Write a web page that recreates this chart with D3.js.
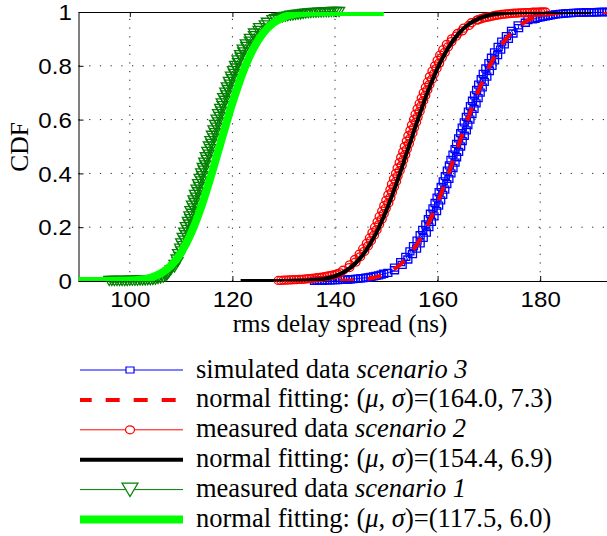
<!DOCTYPE html>
<html>
<head>
<meta charset="utf-8">
<script src="https://cdn.jsdelivr.net/npm/d3@7"></script>
<style>
  body { margin: 0; background: #fff; }
  svg { display: block; }
</style>
</head>
<body>
<div id="placeholder"></div>
<script>
// Axis ticks
var xTicks = [100, 120, 140, 160, 180];
var yTicks = [0, 0.2, 0.4, 0.6, 0.8, 1];
var yTickLabels = ["0", "0.2", "0.4", "0.6", "0.8", "1"];

// [rms delay spread (ns), CDF]
var sim3 = [[136,0.001],[136.5,0.001],[137,0.001],[137.5,0.001],[138,0.002],[138.5,0.002],[139,0.002],[139.5,0.003],[140,0.003],[140.5,0.003],[141,0.004],[141.5,0.004],[142,0.005],[142.5,0.005],[143,0.006],[143.5,0.007],[144,0.008],[144.5,0.009],[145,0.010],[145.5,0.011],[146,0.012],[146.5,0.013],[147,0.015],[147.5,0.017],[148,0.019],[148.5,0.021],[149,0.024],[149.5,0.027],
  [150.3,0.03],[151.6,0.04],[151.6,0.05],[153.1,0.06],[152.8,0.07],[154.2,0.08],[153.8,0.09],[155.1,0.10],[154.6,0.11],[155.9,0.12],[155.3,0.13],[156.6,0.14],[156.0,0.15],[157.2,0.16],[156.6,0.17],[157.8,0.18],[157.1,0.19],[158.3,0.20],[157.7,0.21],[158.8,0.22],[158.2,0.23],[159.3,0.24],[158.6,0.25],[159.8,0.26],[159.1,0.27],[160.2,0.28],[159.5,0.29],[160.6,0.30],[159.9,0.31],[161.0,0.32],[160.3,0.33],[161.4,0.34],[160.7,0.35],[161.8,0.36],[161.1,0.37],[162.2,0.38],[161.5,0.39],[162.6,0.40],[161.9,0.41],[163.0,0.42],[162.3,0.43],[163.4,0.44],[162.6,0.45],[163.7,0.46],[163.0,0.47],[164.1,0.48],[163.4,0.49],[164.5,0.50],
  [163.7,0.51],[164.8,0.52],[164.1,0.53],[165.2,0.54],[164.5,0.55],[165.6,0.56],[164.8,0.57],[165.9,0.58],[165.2,0.59],[166.3,0.60],[165.6,0.61],[166.7,0.62],[166.0,0.63],[167.1,0.64],[166.4,0.65],[167.5,0.66],[166.8,0.67],[167.9,0.68],[167.2,0.69],[168.3,0.70],[167.6,0.71],[168.7,0.72],[168.0,0.73],[169.1,0.74],[168.5,0.75],[169.6,0.76],[168.9,0.77],[170.1,0.78],[169.4,0.79],[170.6,0.80],[170.0,0.81],[171.1,0.82],[170.5,0.83],[171.7,0.84],[171.1,0.85],[172.3,0.86],[171.8,0.87],[173.0,0.88],[172.5,0.89],[173.8,0.90],[173.4,0.91],[174.7,0.92],[174.4,0.93],[175.8,0.94],[175.7,0.95],[177.1,0.96],[177.6,0.97],
  [178.5,0.973],[179,0.975],[179.5,0.978],[180,0.980],[180.5,0.982],[181,0.984],[181.5,0.986],[182,0.988],[182.5,0.989],[183,0.991],[183.5,0.992],[184,0.993],[184.5,0.994],[185,0.995],[185.5,0.996],[186,0.996],[186.5,0.997],[187,0.997],[187.5,0.998],[188,0.998],[188.5,0.998],[189,0.999],[189.5,0.999],[190,0.999],[190.5,0.999],[191,0.999],[191.5,1],[192,1],[192.5,1],[193,1],[193.5,1],[194,1]];
var fit3 = [[130,0],[136,0.0001],[140,0.0005],[143,0.002],[146,0.0068],[148,0.0142],[150,0.0276],[152,0.0501],[154,0.0853],[156,0.1366],[158,0.2056],[160,0.2919],[162,0.3921],[164,0.5],[166,0.6079],[168,0.7081],[170,0.7944],[172,0.8634],[174,0.9147],[176,0.9499],[178,0.9724],[180,0.9858],[183,0.9954],[186,0.9987],[190,0.9998],[200,1]];
var meas2 = [[129,0.002],[129.5,0.002],[130,0.003],[130.5,0.003],[131,0.004],[131.5,0.004],[132,0.005],[132.5,0.005],[133,0.006],[133.5,0.006],[134,0.007],[134.5,0.008],[135,0.009],[135.5,0.010],[136,0.011],[136.5,0.012],[137,0.013],[137.5,0.014],[138,0.016],[138.5,0.018],[139,0.020],[139.5,0.022],[140,0.024],[140.5,0.027],
  [141.0,0.03],[141.6,0.04],[142.8,0.05],[142.9,0.06],[144.0,0.07],[143.9,0.08],[144.9,0.09],[144.8,0.10],[145.7,0.11],[145.5,0.12],[146.4,0.13],[146.2,0.14],[147.0,0.15],[146.8,0.16],[147.6,0.17],[147.3,0.18],[148.1,0.19],[147.8,0.20],[148.6,0.21],[148.3,0.22],[149.1,0.23],[148.7,0.24],[149.5,0.25],[149.2,0.26],[149.9,0.27],[149.6,0.28],[150.4,0.29],[150.0,0.30],[150.8,0.31],[150.4,0.32],[151.1,0.33],[150.8,0.34],[151.5,0.35],[151.1,0.36],[151.9,0.37],[151.5,0.38],[152.2,0.39],[151.9,0.40],[152.6,0.41],[152.2,0.42],[153.0,0.43],[152.6,0.44],[153.3,0.45],[152.9,0.46],[153.7,0.47],[153.3,0.48],[154.0,0.49],[153.6,0.50],
  [154.4,0.51],[154.0,0.52],[154.7,0.53],[154.3,0.54],[155.1,0.55],[154.7,0.56],[155.4,0.57],[155.0,0.58],[155.8,0.59],[155.4,0.60],[156.1,0.61],[155.7,0.62],[156.5,0.63],[156.1,0.64],[156.8,0.65],[156.5,0.66],[157.2,0.67],[156.9,0.68],[157.6,0.69],[157.3,0.70],[158.0,0.71],[157.7,0.72],[158.4,0.73],[158.1,0.74],[158.9,0.75],[158.5,0.76],[159.3,0.77],[159.0,0.78],[159.8,0.79],[159.5,0.80],[160.3,0.81],[160.0,0.82],[160.8,0.83],[160.5,0.84],[161.4,0.85],[161.1,0.86],[162.0,0.87],[161.8,0.88],[162.7,0.89],[162.8,0.90],[163.6,0.91],[163.9,0.92],[164.8,0.93],[165.1,0.94],[166.1,0.95],[166.6,0.96],[167.7,0.97],
  [168,0.972],[168.5,0.975],[169,0.978],[169.5,0.980],[170,0.982],[170.5,0.984],[171,0.986],[171.5,0.988],[172,0.989],[172.5,0.991],[173,0.992],[173.5,0.993],[174,0.994],[174.5,0.995],[175,0.996],[175.5,0.996],[176,0.997],[176.5,0.997],[177,0.998],[177.5,0.998],[178,0.998],[178.5,0.999],[179,0.999],[179.5,0.999],[180,1],[180.5,1],[181,1]];
var fit2 = [[121.6,0],[130,0.0002],[134,0.0016],[136,0.0038],[138,0.0087],[140,0.0184],[142,0.0362],[144,0.0659],[146,0.1118],[148,0.1768],[150,0.2618],[152,0.364],[154,0.4769],[156,0.5917],[158,0.6991],[160,0.7915],[162,0.8646],[164,0.9179],[166,0.9536],[168,0.9756],[170,0.9881],[173,0.9965],[176,0.9991],[180,0.9999],[190,1]];
var meas1 = [[96,0],[96.5,0],[97,0],[97.5,0],[98,0],[98.5,0],[99,0],[99.5,0],[100,0.001],[100.5,0.001],[101,0.001],[101.5,0.001],[102,0.002],[102.5,0.002],[103,0.002],[103.5,0.003],[104,0.003],[104.5,0.004],[105,0.005],[105.5,0.007],[106,0.009],[106.5,0.012],[107,0.017],[107.3,0.022],
  [107.6,0.03],[108.0,0.04],[108.7,0.05],[108.7,0.06],[109.3,0.07],[109.1,0.08],[109.7,0.09],[109.4,0.10],[110.0,0.11],[109.8,0.12],[110.3,0.13],[110.0,0.14],[110.6,0.15],[110.3,0.16],[110.9,0.17],[110.6,0.18],[111.2,0.19],[110.9,0.20],[111.5,0.21],[111.3,0.22],[111.8,0.23],[111.6,0.24],[112.1,0.25],[111.8,0.26],[112.4,0.27],[112.1,0.28],[112.6,0.29],[112.4,0.30],[112.9,0.31],[112.7,0.32],[113.3,0.33],[113.0,0.34],[113.5,0.35],[113.3,0.36],[113.9,0.37],[113.6,0.38],[114.1,0.39],[113.9,0.40],[114.4,0.41],[114.2,0.42],[114.7,0.43],[114.5,0.44],[115.0,0.45],[114.8,0.46],[115.4,0.47],[115.1,0.48],[115.7,0.49],[115.4,0.50],
  [115.9,0.51],[115.7,0.52],[116.3,0.53],[116.0,0.54],[116.6,0.55],[116.3,0.56],[116.9,0.57],[116.6,0.58],[117.2,0.59],[116.9,0.60],[117.5,0.61],[117.2,0.62],[117.8,0.63],[117.6,0.64],[118.1,0.65],[117.9,0.66],[118.5,0.67],[118.2,0.68],[118.8,0.69],[118.6,0.70],[119.1,0.71],[118.9,0.72],[119.5,0.73],[119.3,0.74],[119.9,0.75],[119.7,0.76],[120.3,0.77],[120.1,0.78],[120.7,0.79],[120.5,0.80],[121.1,0.81],[121.0,0.82],[121.6,0.83],[121.5,0.84],[122.1,0.85],[122.0,0.86],[122.7,0.87],[122.6,0.88],[123.4,0.89],[123.4,0.90],[124.2,0.91],[124.2,0.92],[125.1,0.93],[125.2,0.94],[126.3,0.95],[126.7,0.96],[127.8,0.97],
  [128.3,0.973],[128.8,0.976],[129.3,0.978],[129.8,0.980],[130.3,0.982],[130.8,0.984],[131.3,0.986],[131.8,0.987],[132.3,0.989],[132.8,0.990],[133.3,0.991],[133.8,0.993],[134.3,0.994],[134.8,0.995],[135.3,0.996],[135.8,0.997],[136.3,0.997],[136.8,0.998],[137.3,0.998],[137.8,0.999],[138.3,0.999],[138.8,0.999],[139.3,1],[139.8,1],[140.3,1],[140.8,1]];
var fit1 = [[85,0],[90,0],[96,0.0002],[100,0.0018],[102,0.0049],[104,0.0122],[106,0.0276],[108,0.0567],[110,0.1056],[112,0.1797],[114,0.2798],[116,0.4013],[118,0.5332],[120,0.6615],[122,0.7734],[124,0.8606],[126,0.9217],[128,0.9599],[130,0.9814],[132,0.9922],[135,0.9982],[140,0.9999],[149.5,1]];

// Legend entries: text pieces [text, italic]
var legendLabels = [
  [["simulated data ", false], ["scenario 3", true]],
  [["normal fitting: (", false], ["\u03bc", true], [", ", false], ["\u03c3", true], [")=(164.0, 7.3)", false]],
  [["measured data ", false], ["scenario 2", true]],
  [["normal fitting: (", false], ["\u03bc", true], [", ", false], ["\u03c3", true], [")=(154.4, 6.9)", false]],
  [["measured data ", false], ["scenario 1", true]],
  [["normal fitting: (", false], ["\u03bc", true], [", ", false], ["\u03c3", true], [")=(117.5, 6.0)", false]]
];

var W = 607, H = 536;
var serif = "'Liberation Serif', 'Times New Roman', serif";
var sans = "'Liberation Sans', Arial, sans-serif";

var svg = d3.select("#placeholder").append("svg").attr("width", W).attr("height", H);

var x = d3.scaleLinear().domain([90, 200]).range([78.5, 642.8]);
var y = d3.scaleLinear().domain([0, 1]).range([281, 12]);

// series styles, in the order they are plotted
var series = [
  {data: sim3, color: "#0000ff", width: 1, marker: "square"},
  {data: fit3, color: "#ff0000", width: 4, dash: "14,14", smooth: true},
  {data: meas2, color: "#ff0000", width: 1, marker: "circle"},
  {data: fit2, color: "#000000", width: 4, smooth: true},
  {data: meas1, color: "#008000", width: 1, marker: "triangle"},
  {data: fit1, color: "#00ff00", width: 8, smooth: true}
];

svg.append("defs").append("clipPath").attr("id", "plotClip")
  .append("rect")
  .attr("x", x(90)).attr("y", y(1))
  .attr("width", x(200) - x(90)).attr("height", y(0) - y(1));

// Grid
var grid = svg.append("g").attr("class", "grid")
  .style("stroke", "#222").style("stroke-width", 1);
grid.selectAll(".vgrid").data(xTicks).enter().append("line")
  .attr("x1", function (d) { return x(d); }).attr("x2", function (d) { return x(d); })
  .attr("y1", y(0)).attr("y2", y(1))
  .style("stroke-dasharray", "1.2,7.5");
grid.selectAll(".hgrid").data(yTicks.slice(1, 5)).enter().append("line")
  .attr("x1", x(90)).attr("x2", x(200))
  .attr("y1", function (d) { return y(d); }).attr("y2", function (d) { return y(d); })
  .style("stroke-dasharray", "1.2,9.5");

// Axes
var xAxis = svg.append("g").attr("transform", "translate(0," + y(0) + ")")
  .call(d3.axisBottom(x).tickValues(xTicks).tickSize(-5).tickSizeOuter(0));
var xAxisTop = svg.append("g").attr("transform", "translate(0," + y(1) + ")")
  .call(d3.axisTop(x).tickValues(xTicks).tickSize(-5).tickSizeOuter(0).tickFormat(""));
var yAxis = svg.append("g").attr("transform", "translate(" + x(90) + ",0)")
  .call(d3.axisLeft(y).tickValues(yTicks).tickSize(-5).tickSizeOuter(0)
        .tickFormat(function (d, i) { return yTickLabels[i]; }));

[xAxis, xAxisTop, yAxis].forEach(function (a) {
  a.selectAll("path, line").style("stroke", "#000").style("stroke-width", 1);
});
xAxis.selectAll("text")
  .attr("y", 26).attr("dy", null)
  .attr("transform", "scale(1.12,1)")
  .style("font-family", sans).style("font-size", "21.5px").style("fill", "#000");
yAxis.selectAll("text")
  .attr("x", -6).attr("dy", "0.36em")
  .attr("transform", "scale(1.12,1)")
  .style("font-family", sans).style("font-size", "21.5px").style("fill", "#000");

// Axis titles
svg.append("text")
  .attr("x", 340).attr("y", 332)
  .attr("text-anchor", "middle")
  .style("font-family", serif).style("font-size", "25px")
  .text("rms delay spread (ns)");
svg.append("text")
  .attr("transform", "translate(28,147) rotate(-90)")
  .attr("text-anchor", "middle")
  .style("font-family", serif).style("font-size", "25.5px")
  .text("CDF");

// Markers
function markerPath(kind) {
  if (kind == "square") return "M-4,-3.5V3.5H4V-3.5Z";
  if (kind == "circle") return "M-4.5,0A4.5,4 0 1,0 4.5,0A4.5,4 0 1,0 -4.5,0Z";
  return "M-5.5,-4.5L5.5,-4.5L0,4.5Z";
}
function legendMarkerPath(kind) {
  if (kind == "square") return "M-4,-3V3H4V-3Z";
  if (kind == "circle") return "M-4.5,0A4.5,4 0 1,0 4.5,0A4.5,4 0 1,0 -4.5,0Z";
  return "M-8,-6.5L8,-6.5L0,7Z";
}

var line = d3.line()
  .x(function (d) { return x(d[0]); })
  .y(function (d) { return y(d[1]); });

var plot = svg.append("g");
series.forEach(function (s) {
  plot.append("path")
    .attr("d", line.curve(s.smooth ? d3.curveMonotoneX : d3.curveLinear)(s.data))
    .attr("clip-path", "url(#plotClip)")
    .style("fill", "none")
    .style("stroke", s.color)
    .style("stroke-width", s.width)
    .style("stroke-dasharray", s.dash || null);

  if (s.marker) {
    plot.append("g").selectAll("path").data(s.data).enter().append("path")
      .attr("transform", function (d) { return "translate(" + x(d[0]) + "," + y(d[1]) + ")"; })
      .attr("d", markerPath(s.marker))
      .style("fill", "none")
      .style("stroke", s.color)
      .style("stroke-width", 1.3);
  }
});

// Legend
var legend = svg.append("g");
series.forEach(function (s, i) {
  var ly = 370 + 29.9 * i;
  legend.append("line")
    .attr("x1", 80).attr("x2", 183).attr("y1", ly).attr("y2", ly)
    .style("stroke", s.color)
    .style("stroke-width", s.width)
    .style("stroke-dasharray", s.dash || null)
    .style("stroke-dashoffset", s.dash ? 2.3 : null);
  if (s.marker) {
    legend.append("path")
      .attr("transform", "translate(130," + ly + ")")
      .attr("d", legendMarkerPath(s.marker))
      .style("fill", "#fff")
      .style("stroke", s.color)
      .style("stroke-width", 1.2);
  }
  var t = legend.append("text")
    .attr("x", 196).attr("y", ly + 7.5)
    .style("font-family", serif).style("font-size", "26.5px").style("fill", "#000");
  legendLabels[i].forEach(function (p) {
    t.append("tspan").text(p[0]).style("font-style", p[1] ? "italic" : "normal");
  });
});
</script>
</body>
</html>
